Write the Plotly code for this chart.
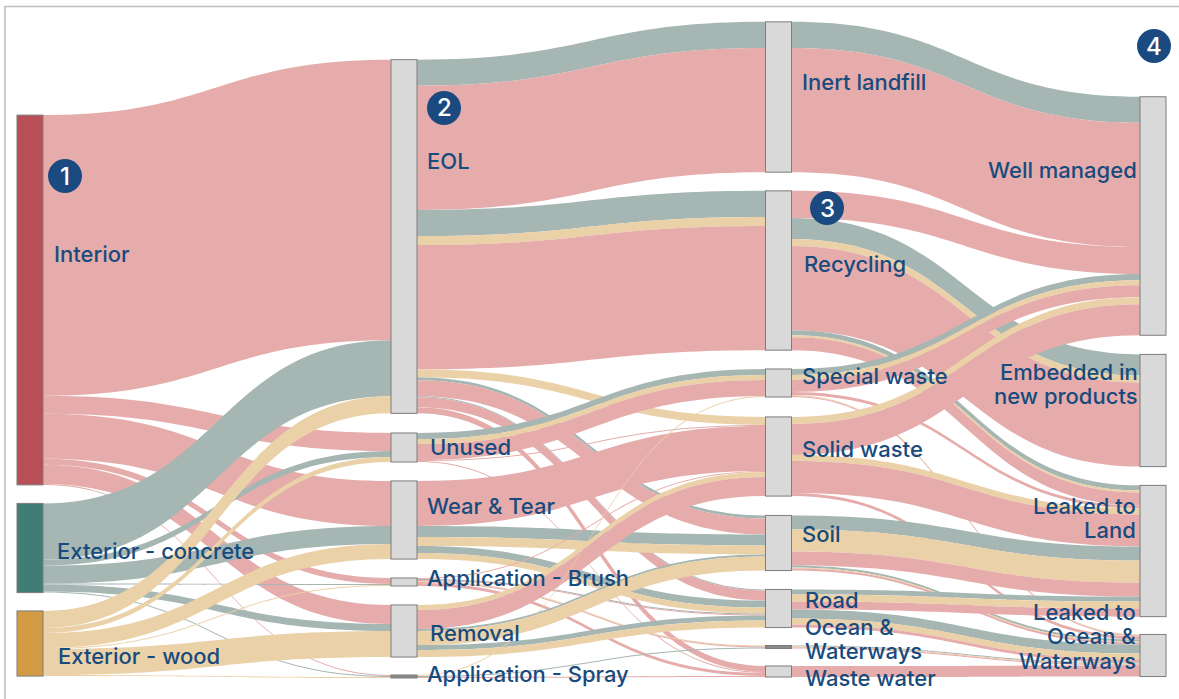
import plotly.graph_objects as go

W, H = 1179, 699
ML, MR, MT, MB = 17, 13, 22, 22
PW, PH = W - ML - MR, H - MT - MB

node_labels = ["Interior", "Exterior - concrete", "Exterior - wood",
               "EOL", "Unused", "Wear & Tear", "Application - Brush", "Removal", "Application - Spray",
               "Inert landfill", "Recycling", "Special waste", "Solid waste", "Soil", "Road",
               "Ocean & Waterways", "Waste water",
               "Well managed", "Embedded in new products", "Leaked to Land", "Leaked to Ocean & Waterways"]

# material: P interior, G concrete, T wood
flows = [
    # stage 1 -> stage 2
    ("Interior", "EOL", "P", 280), ("Interior", "Unused", "P", 18), ("Interior", "Wear & Tear", "P", 45),
    ("Interior", "Application - Brush", "P", 6), ("Interior", "Removal", "P", 19),
    ("Interior", "Application - Spray", "P", 1),
    ("Exterior - concrete", "EOL", "G", 56), ("Exterior - concrete", "Unused", "G", 6),
    ("Exterior - concrete", "Wear & Tear", "G", 18), ("Exterior - concrete", "Application - Brush", "G", 1),
    ("Exterior - concrete", "Removal", "G", 7), ("Exterior - concrete", "Application - Spray", "G", 1),
    ("Exterior - wood", "EOL", "T", 17), ("Exterior - wood", "Unused", "T", 5),
    ("Exterior - wood", "Wear & Tear", "T", 15), ("Exterior - wood", "Application - Brush", "T", 1),
    ("Exterior - wood", "Removal", "T", 26), ("Exterior - wood", "Application - Spray", "T", 1),
    # stage 2 -> stage 3
    ("EOL", "Inert landfill", "G", 26), ("EOL", "Inert landfill", "P", 124),
    ("EOL", "Recycling", "G", 26), ("EOL", "Recycling", "T", 9), ("EOL", "Recycling", "P", 124),
    ("EOL", "Solid waste", "T", 8),
    ("EOL", "Soil", "G", 3), ("EOL", "Soil", "P", 16),
    ("EOL", "Road", "G", 1), ("EOL", "Road", "P", 10),
    ("EOL", "Waste water", "P", 6),
    ("Unused", "Special waste", "G", 6), ("Unused", "Special waste", "T", 5), ("Unused", "Special waste", "P", 16),
    ("Unused", "Solid waste", "P", 1), ("Unused", "Waste water", "P", 1),
    ("Wear & Tear", "Solid waste", "P", 45),
    ("Wear & Tear", "Soil", "G", 11), ("Wear & Tear", "Soil", "T", 9),
    ("Wear & Tear", "Road", "G", 7), ("Wear & Tear", "Road", "T", 6),
    ("Application - Brush", "Solid waste", "P", 1), ("Application - Brush", "Road", "G", 1),
    ("Application - Brush", "Road", "P", 1),
    ("Application - Brush", "Ocean & Waterways", "T", 1), ("Application - Brush", "Ocean & Waterways", "P", 1),
    ("Application - Brush", "Waste water", "P", 3),
    ("Removal", "Solid waste", "T", 5), ("Removal", "Solid waste", "P", 19),
    ("Removal", "Soil", "G", 2), ("Removal", "Soil", "T", 14),
    ("Removal", "Road", "G", 5), ("Removal", "Road", "T", 7),
    ("Application - Spray", "Special waste", "T", 1), ("Application - Spray", "Ocean & Waterways", "G", 1),
    ("Application - Spray", "Waste water", "P", 1),
    # stage 3 -> stage 4
    ("Inert landfill", "Well managed", "G", 26), ("Inert landfill", "Well managed", "P", 124),
    ("Recycling", "Well managed", "P", 27),
    ("Recycling", "Embedded in new products", "G", 21), ("Recycling", "Embedded in new products", "T", 7),
    ("Recycling", "Embedded in new products", "P", 84),
    ("Recycling", "Leaked to Land", "G", 5), ("Recycling", "Leaked to Land", "T", 2),
    ("Recycling", "Leaked to Land", "P", 13),
    ("Special waste", "Well managed", "G", 6), ("Special waste", "Well managed", "T", 5),
    ("Special waste", "Well managed", "P", 12),
    ("Special waste", "Leaked to Land", "P", 3),
    ("Special waste", "Leaked to Ocean & Waterways", "T", 1), ("Special waste", "Leaked to Ocean & Waterways", "P", 1),
    ("Solid waste", "Well managed", "T", 7), ("Solid waste", "Well managed", "P", 31),
    ("Solid waste", "Leaked to Land", "T", 6), ("Solid waste", "Leaked to Land", "P", 32),
    ("Solid waste", "Leaked to Ocean & Waterways", "P", 3),
    ("Soil", "Leaked to Land", "G", 14), ("Soil", "Leaked to Land", "T", 22), ("Soil", "Leaked to Land", "P", 14),
    ("Soil", "Leaked to Ocean & Waterways", "G", 2), ("Soil", "Leaked to Ocean & Waterways", "T", 1),
    ("Soil", "Leaked to Ocean & Waterways", "P", 2),
    ("Road", "Leaked to Land", "G", 5), ("Road", "Leaked to Land", "T", 7), ("Road", "Leaked to Land", "P", 8),
    ("Road", "Leaked to Ocean & Waterways", "G", 9), ("Road", "Leaked to Ocean & Waterways", "T", 6),
    ("Road", "Leaked to Ocean & Waterways", "P", 3),
    ("Ocean & Waterways", "Leaked to Ocean & Waterways", "G", 1),
    ("Ocean & Waterways", "Leaked to Ocean & Waterways", "T", 1),
    ("Ocean & Waterways", "Leaked to Ocean & Waterways", "P", 1),
    ("Waste water", "Leaked to Ocean & Waterways", "P", 11),
]

# node centres in page pixels
node_cx = [30] * 3 + [404] * 6 + [778.5] * 8 + [1153] * 4
node_cy = [300, 548, 643.5,
           236.5, 447.5, 520, 582, 631, 676.5,
           97, 270.5, 383, 456.5, 543, 608.5, 647, 671.5,
           216, 410.5, 551, 655.5]

node_colors = ["#b94f58", "#417c75", "#d49b45"] + ["#d9d9d9"] * 18
node_colors[node_labels.index("Application - Spray")] = "#8a8a8a"
node_colors[node_labels.index("Ocean & Waterways")] = "#8a8a8a"
material_colors = {"P": "#e6acac", "G": "#a5b6b3", "T": "#ebd1a8"}
idx = {n: i for i, n in enumerate(node_labels)}


def px(x):
    return (x - ML) / PW


def py(y):
    return 1 - (y - MT) / PH


fig = go.Figure(go.Sankey(
    arrangement="fixed",
    hoverinfo="none",
    textfont=dict(size=1, color="rgba(0,0,0,0)"),
    node=dict(
        label=[""] * len(node_labels),
        color=node_colors,
        x=[px(v) for v in node_cx],
        y=[(v - MT) / PH for v in node_cy],
        thickness=26,
        pad=18.7,
        line=dict(color="#7d7d7d", width=1),
    ),
    link=dict(
        source=[idx[f[0]] for f in flows],
        target=[idx[f[1]] for f in flows],
        value=[f[3] for f in flows],
        color=[material_colors[f[2]] for f in flows],
        line=dict(width=0),
    ),
))

TEXT = "#174b7d"
# one text line: text, x, y, anchor
labels = [
    ("Interior", 51.5, 254, "left"),
    ("Exterior - concrete", 54.5, 551, "left"),
    ("Exterior - wood", 55.5, 656, "left"),
    ("EOL", 424.5, 161, "left"),
    ("Unused", 427.5, 447, "left"),
    ("Wear &amp; Tear", 424.5, 506, "left"),
    ("Application - Brush", 424.5, 578, "left"),
    ("Removal", 427.5, 633, "left"),
    ("Application - Spray", 424.5, 674, "left"),
    ("Inert landfill", 800.5, 82, "left"),
    ("Recycling", 801.5, 264, "left"),
    ("Special waste", 800.5, 376, "left"),
    ("Solid waste", 800.5, 449, "left"),
    ("Soil", 800.5, 534, "left"),
    ("Road", 802.5, 600, "left"),
    ("Ocean &amp;", 802.5, 627, "left"),
    ("Waterways", 802.5, 651, "left"),
    ("Waste water", 802.5, 678, "left"),
    ("Well managed", 1139, 170, "right"),
    ("Embedded in", 1140, 372, "right"),
    ("new products", 1140, 396, "right"),
    ("Leaked to", 1138, 506, "right"),
    ("Land", 1138, 530, "right"),
    ("Leaked to", 1138, 612, "right"),
    ("Ocean &amp;", 1138, 636, "right"),
    ("Waterways", 1138, 661, "right"),
]
annotations = [dict(text=t, x=px(x), y=py(y), xref="paper", yref="paper",
                    xanchor=a, yanchor="middle", align=a, showarrow=False,
                    font=dict(family="Inter", size=22, weight=500, color=TEXT))
               for t, x, y, a in labels]

badges = [("1", 65, 176), ("2", 444, 108), ("3", 827, 208), ("4", 1154, 46)]
shapes = [dict(type="rect", xref="paper", yref="paper", layer="below",
               x0=px(5), x1=px(1185), y0=py(710), y1=py(6.5),
               line=dict(color="#bdbdbd", width=1.5), fillcolor="rgba(0,0,0,0)")]
for t, x, y in badges:
    shapes.append(dict(type="circle", xref="paper", yref="paper", layer="above",
                       x0=px(x - 17), x1=px(x + 17), y0=py(y + 17), y1=py(y - 17),
                       fillcolor="#1b4a80", line=dict(width=0)))
    annotations.append(dict(text=t, x=px(x), y=py(y), xref="paper", yref="paper",
                            xanchor="center", yanchor="middle", showarrow=False,
                            font=dict(family="Inter", size=24, weight=500, color="white")))

fig.update_layout(width=W, height=H, margin=dict(l=ML, r=MR, t=MT, b=MB, pad=0),
                  paper_bgcolor="white", plot_bgcolor="white", showlegend=False,
                  annotations=annotations, shapes=shapes)
fig.write_html("out.html", config={"displayModeBar": False},
               post_script="document.body.style.margin='0';document.documentElement.style.overflow='hidden';")
